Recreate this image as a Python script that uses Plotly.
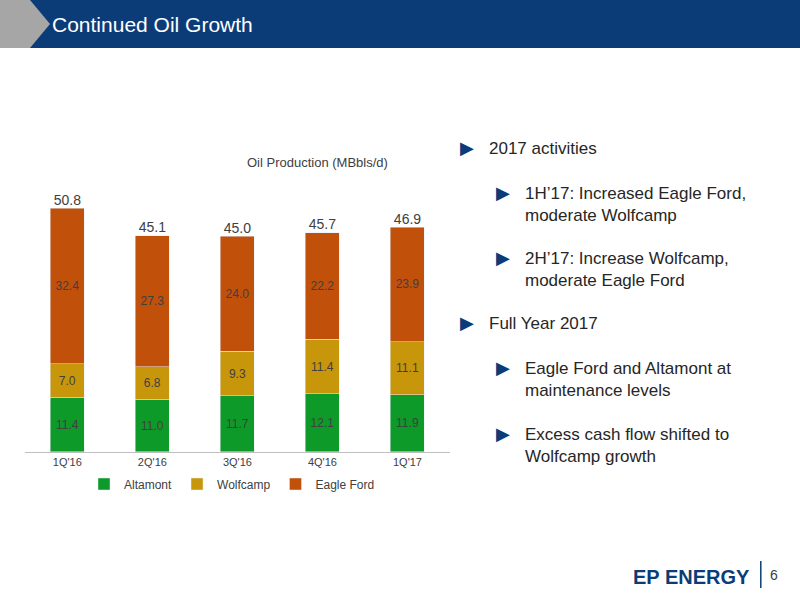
import plotly.graph_objects as go

quarters = ["1Q'16", "2Q'16", "3Q'16", "4Q'16", "1Q'17"]
altamont = [11.4, 11.0, 11.7, 12.1, 11.9]
wolfcamp = [7.0, 6.8, 9.3, 11.4, 11.1]
eagle_ford = [32.4, 27.3, 24.0, 22.2, 23.9]
totals = [50.8, 45.1, 45.0, 45.7, 46.9]

fig = go.Figure()
for name, vals, col in [("Altamont", altamont, "#0E9A28"),
                        ("Wolfcamp", wolfcamp, "#C8960A"),
                        ("Eagle Ford", eagle_ford, "#C0500A")]:
    fig.add_trace(go.Bar(x=quarters, y=vals, name=name, marker_color=col, width=0.4,
                         text=[f"{v:.1f}" for v in vals], textposition="inside",
                         insidetextanchor="middle",
                         textfont=dict(color="#404040", size=12, family="Liberation Sans")))
fig.add_trace(go.Scatter(x=quarters, y=totals, mode="text", text=[f"{v:.1f}" for v in totals],
                         textposition="top center", showlegend=False,
                         textfont=dict(size=14, color="#404040", family="Liberation Sans")))

fig.update_layout(
    barmode="stack", width=800, height=600, margin=dict(l=0, r=0, t=0, b=0),
    plot_bgcolor="white", paper_bgcolor="white",
    xaxis=dict(domain=[0.031, 0.5625], showline=True, linecolor="#bfbfbf",
               tickfont=dict(size=11, color="#404040", family="Liberation Sans")),
    yaxis=dict(domain=[0.2467, 0.7], range=[0, 56.7], visible=False),
    legend=dict(orientation="h", x=0.29, xanchor="center", y=1 - 484 / 600, yanchor="middle",
                font=dict(size=12, color="#404040", family="Liberation Sans"), traceorder="normal",
                itemwidth=30, tracegroupgap=0),
    font=dict(family="Liberation Sans"),
)

shapes = [
    dict(type="rect", xref="paper", yref="paper", x0=0, x1=1, y0=1 - 48 / 600, y1=1,
         fillcolor="#0B3C78", line_width=0),
    dict(type="path", xref="paper", yref="paper",
         path="M 0,1 L 0.0375,1 L 0.0625,0.96 L 0.0375,0.92 L 0,0.92 Z",
         fillcolor="#A6A6A6", line_width=0),
    dict(type="line", xref="paper", yref="paper", x0=0.951, x1=0.951, y0=0.02, y1=0.065,
         line=dict(color="#0B3C78", width=1.5)),
]
fig.update_layout(shapes=shapes)

ann = [
    dict(text="Continued Oil Growth", x=50 / 800, y=1 - 24 / 600, xanchor="left", yanchor="middle",
         font=dict(size=21, color="white", family="Liberation Sans")),
    dict(text="Oil Production (MBbls/d)", x=245 / 800, y=1 - 162 / 600, yanchor="middle",
         font=dict(size=13, color="#404040", family="Liberation Sans")),
    dict(text="<b>EP ENERGY</b>", x=0.94, y=1 - 577 / 600, xanchor="right", yanchor="middle",
         font=dict(size=20, color="#0B3C78", family="Liberation Sans")),
    dict(text="6", x=0.975, y=1 - 575 / 600, yanchor="middle",
         font=dict(size=14, color="#404040", family="Liberation Sans")),
]
bullets = [
    (458, 148, "2017 activities"),
    (494, 193, "1H’17: Increased Eagle Ford,<br>moderate Wolfcamp"),
    (494, 258, "2H’17: Increase Wolfcamp,<br>moderate Eagle Ford"),
    (458, 323, "Full Year 2017"),
    (494, 368, "Eagle Ford and Altamont at<br>maintenance levels"),
    (494, 434, "Excess cash flow shifted to<br>Wolfcamp growth"),
]
for bx, by, txt in bullets:
    ann.append(dict(text="▶", x=bx / 800, y=1 - by / 600, xanchor="left", yanchor="middle",
                    font=dict(size=18, color="#0B3C78")))
    ann.append(dict(text=txt, x=(bx + 29) / 800, y=1 - (by - 11) / 600, xanchor="left",
                    yanchor="top", align="left",
                    font=dict(size=17, color="#262626", family="Liberation Sans")))
for a in ann:
    a.setdefault("xref", "paper")
    a.setdefault("yref", "paper")
    a.setdefault("showarrow", False)
fig.update_layout(annotations=ann)

fig.write_html("out.html", config={"displayModeBar": False},
               post_script="document.body.style.margin='0px';")
